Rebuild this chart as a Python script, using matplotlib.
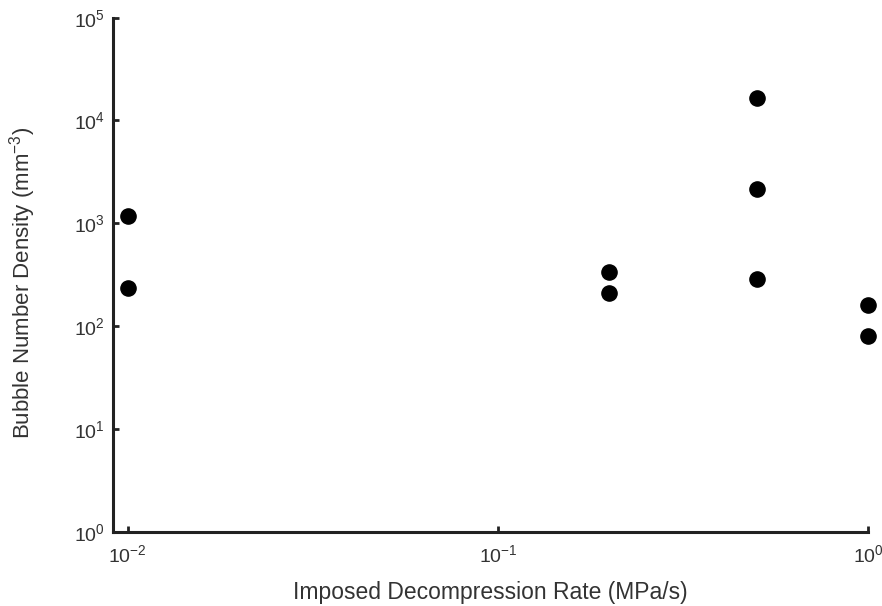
import matplotlib
matplotlib.use("Agg")
import matplotlib.pyplot as plt
from matplotlib.ticker import LogLocator, NullLocator

plt.rcParams['font.family'] = ['Liberation Sans', 'DejaVu Sans']
plt.rcParams['mathtext.default'] = 'regular'
plt.rcParams['axes.unicode_minus'] = False

# decompression rate (MPa/s) and bubble number density (mm^-3)
rate = [0.01, 0.01, 0.2, 0.2, 0.5, 0.5, 0.5, 1.0, 1.0]
density = [1190, 233, 334, 208, 16400, 2140, 285, 160, 81]

fig = plt.figure(figsize=(8.82, 6.06), dpi=100)
ax = fig.add_axes([0.128, 0.1226, 0.8565, 0.8482])

ax.scatter(rate, density, s=120, color='black', zorder=3, clip_on=False)

ax.set_xscale('log')
ax.set_yscale('log')
ax.set_xlim(10 ** -2.04, 1)
ax.set_ylim(1, 1e5)

ax.xaxis.set_major_locator(LogLocator(base=10, numticks=10))
ax.yaxis.set_major_locator(LogLocator(base=10, numticks=10))
ax.xaxis.set_minor_locator(NullLocator())
ax.yaxis.set_minor_locator(NullLocator())

for s in ['top', 'right']:
    ax.spines[s].set_visible(False)
for s in ['left', 'bottom']:
    ax.spines[s].set_linewidth(2.2)
    ax.spines[s].set_color('#222222')

ax.tick_params(axis='both', direction='in', length=4, width=2, color='#222222',
               labelsize=14, labelcolor='#333333')
ax.tick_params(axis='x', pad=9)
ax.tick_params(axis='y', pad=6)

ax.set_xlabel('Imposed Decompression Rate (MPa/s)', fontsize=16.5, color='#333333')
ax.set_ylabel('Bubble Number Density (mm$^{-3}$)', fontsize=16, color='#333333')
ax.xaxis.set_label_coords(0.5, -0.096)
ax.yaxis.set_label_coords(-0.099, 0.485)

fig.savefig('out.png', dpi=100)
